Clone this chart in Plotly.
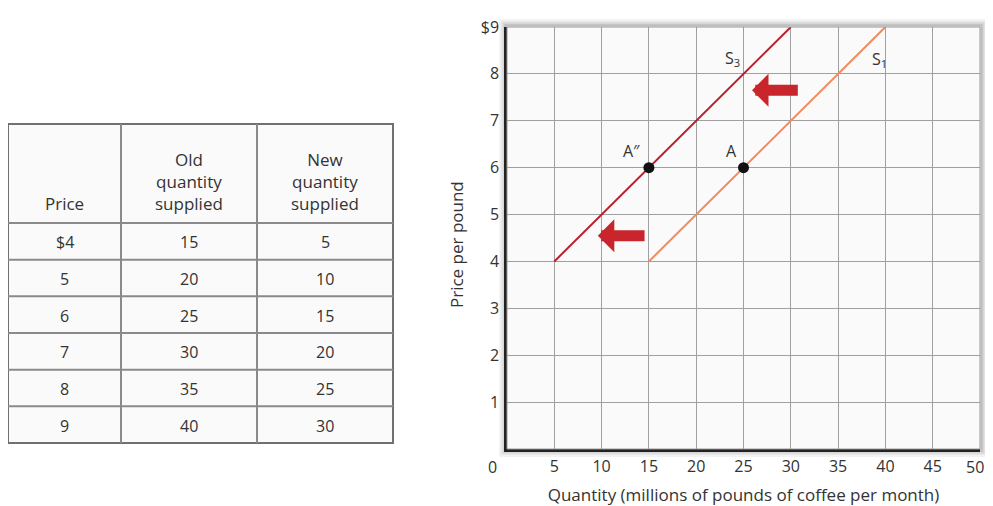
import plotly.graph_objects as go

# ---- data ----
prices = [4, 5, 6, 7, 8, 9]
price_labels = ["$4", "5", "6", "7", "8", "9"]
old_qty = [15, 20, 25, 30, 35, 40]
new_qty = [5, 10, 15, 20, 25, 30]
header_labels = ["Price", "Old<br>quantity<br>supplied", "New<br>quantity<br>supplied"]
x_ticks = [5, 10, 15, 20, 25, 30, 35, 40, 45, 50]
y_ticks = [1, 2, 3, 4, 5, 6, 7, 8, 9]
y_tick_text = ["1", "2", "3", "4", "5", "6", "7", "8", "$9"]
point_A = (25, 6)
point_A2 = (15, 6)

OFF = 8  # page body margin
W, H = 993 - OFF, 506 - OFF
FONT = "Open Sans"
TXT = "#333333"


def px_x(p):
    return (p - OFF) / W


def px_y(p):
    return 1 - (p - OFF) / H


fig = go.Figure()

# supply curves
fig.add_trace(go.Scatter(x=new_qty, y=prices, mode="lines",
                         line=dict(color="#B8202C", width=2), showlegend=False, hoverinfo="skip"))
fig.add_trace(go.Scatter(x=old_qty, y=prices, mode="lines",
                         line=dict(color="#F18A5E", width=2), showlegend=False, hoverinfo="skip"))
fig.add_trace(go.Scatter(x=[point_A2[0], point_A[0]], y=[point_A2[1], point_A[1]], mode="markers",
                         marker=dict(color="#111111", size=11), showlegend=False, hoverinfo="skip"))

lab_font = dict(family=FONT, size=16, color=TXT)
tick_font = dict(family=FONT, size=16, color=TXT)
annotations = [
    dict(x=point_A2[0], y=point_A2[1], text="A″", showarrow=False, xanchor="right", yanchor="bottom",
         xshift=-7, yshift=4, font=lab_font),
    dict(x=point_A[0], y=point_A[1], text="A", showarrow=False, xanchor="right", yanchor="bottom",
         xshift=-5, yshift=4, font=lab_font),
    dict(x=new_qty[4], y=prices[4], text="S<sub>3</sub>", showarrow=False, xanchor="center", yanchor="bottom",
         xshift=-11, yshift=2, font=lab_font),
    dict(x=old_qty[-1], y=prices[-1], text="S<sub>1</sub>", showarrow=False, xanchor="center", yanchor="top",
         xshift=-6, yshift=-19, font=lab_font),
    # shift arrows
    dict(x=25.9, y=7.65, ax=30.9, ay=7.65, xref="x", yref="y", axref="x", ayref="y", text="",
         showarrow=True, arrowhead=1, arrowwidth=11, arrowsize=0.5, arrowcolor="#C8262C"),
    dict(x=9.6, y=4.55, ax=14.7, ay=4.55, xref="x", yref="y", axref="x", ayref="y", text="",
         showarrow=True, arrowhead=1, arrowwidth=11, arrowsize=0.5, arrowcolor="#C8262C"),
    # origin label
    dict(x=0, y=0, xref="x", yref="y", text="0", showarrow=False, xanchor="center", yanchor="top",
         xshift=-15, yshift=-5, font=tick_font),
    # last x tick label, kept inside the page edge
    dict(x=x_ticks[-1], y=0, xref="x", yref="y", text=str(x_ticks[-1]), showarrow=False,
         xanchor="right", yanchor="top", xshift=6, yshift=-5, font=tick_font),
    # y-axis title
    dict(xref="paper", yref="paper", x=px_x(457), y=px_y(245), text="Price per pound", textangle=-90,
         showarrow=False, xanchor="center", yanchor="middle", font=dict(family=FONT, size=17, color=TXT)),
]

shapes = []

# ---- table (built from the data lists) ----
col_edges = [8, 121, 257, 393]
tab_top, head_bot, row_h = 124, 223, 36.67
n_rows = len(prices)
tab_bot = head_bot + n_rows * row_h
line_col = "#8a8a8a"
shapes.append(dict(type="rect", xref="paper", yref="paper",
                   x0=px_x(col_edges[0]), x1=px_x(col_edges[-1]), y0=px_y(tab_bot), y1=px_y(tab_top),
                   fillcolor="#fafafa", line=dict(color="#707070", width=2), layer="below"))
for cx in col_edges[1:-1]:
    shapes.append(dict(type="line", xref="paper", yref="paper", x0=px_x(cx), x1=px_x(cx),
                       y0=px_y(tab_bot), y1=px_y(tab_top), line=dict(color=line_col, width=2)))
for r in range(n_rows):
    yy = head_bot + r * row_h
    shapes.append(dict(type="line", xref="paper", yref="paper", x0=px_x(col_edges[0]), x1=px_x(col_edges[-1]),
                       y0=px_y(yy), y1=px_y(yy), line=dict(color=line_col, width=2)))
columns = [price_labels, [str(v) for v in old_qty], [str(v) for v in new_qty]]
for c in range(3):
    cxm = (col_edges[c] + col_edges[c + 1]) / 2
    annotations.append(dict(xref="paper", yref="paper", x=px_x(cxm), y=px_y(head_bot - 6),
                            text=header_labels[c], showarrow=False, xanchor="center", yanchor="bottom",
                            align="center", font=dict(family=FONT, size=17, color=TXT)))
    for r in range(n_rows):
        cym = head_bot + (r + 0.5) * row_h + 1
        annotations.append(dict(xref="paper", yref="paper", x=px_x(cxm), y=px_y(cym),
                                text=columns[c][r], showarrow=False, xanchor="center", yanchor="middle",
                                font=dict(family=FONT, size=16, color=TXT)))

# ---- soft shadow around plot frame ----
x0, x1 = px_x(507), px_x(980)
y0, y1 = px_y(449), px_y(27)
for i, op in enumerate([0.25, 0.16, 0.09, 0.05]):
    d = i * 1.8 + 1.5
    shapes.append(dict(type="rect", xref="paper", yref="paper",
                       x0=x0 - d / W, x1=x1 + d / W, y0=y0 - d / H, y1=y1 + d / H,
                       line=dict(color="rgba(0,0,0,%s)" % op, width=2), layer="below"))
shapes.append(dict(type="rect", xref="paper", yref="paper", x0=x0, x1=x1, y0=y0, y1=y1,
                   line=dict(color="#9a9a9a", width=1), layer="above"))

fig.update_layout(
    width=W, height=H,
    margin=dict(l=0, r=0, t=0, b=0),
    paper_bgcolor="#ffffff",
    plot_bgcolor="#fafafa",
    font=dict(family=FONT, size=16, color=TXT),
    annotations=annotations,
    shapes=shapes,
    xaxis=dict(domain=[x0, x1], range=[0, 50], tickvals=x_ticks,
               ticktext=[str(v) for v in x_ticks[:-1]] + [""],
               showgrid=True, gridcolor="#a0a0a0", gridwidth=1, zeroline=False,
               showline=True, linecolor="#222222", linewidth=2.5, ticks="", ticklabelstandoff=1,
               tickfont=tick_font,
               automargin=False, fixedrange=True,
               title=dict(text="Quantity (millions of pounds of coffee per month)", standoff=15,
                          font=dict(family=FONT, size=17, color=TXT))),
    yaxis=dict(domain=[y0, y1], range=[0, 9], tickvals=y_ticks, ticktext=y_tick_text,
               showgrid=True, gridcolor="#a0a0a0", gridwidth=1, zeroline=False,
               showline=True, linecolor="#222222", linewidth=2.5, ticks="", ticklabelstandoff=2,
               tickfont=tick_font,
               automargin=False, fixedrange=True),
)

fig.write_html("out.html")
